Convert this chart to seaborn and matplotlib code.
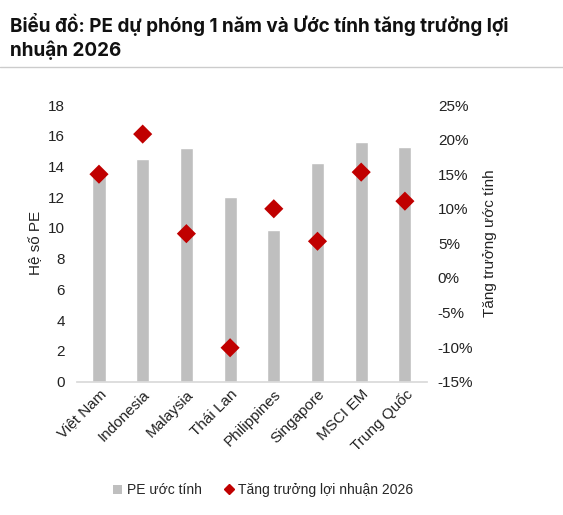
import matplotlib
matplotlib.use('Agg')
import matplotlib.pyplot as plt
import matplotlib.ticker as mticker
from matplotlib.lines import Line2D
from matplotlib.patches import Patch
import pandas as pd
import seaborn as sns

markets = ['Việt Nam', 'Indonesia', 'Malaysia', 'Thái Lan', 'Philippines',
           'Singapore', 'MSCI EM', 'Trung Quốc']
pe_values = [13.7, 14.5, 15.2, 12.0, 9.9, 14.2, 15.6, 15.3]
growth_pct = [15.0, 20.8, 6.4, -10.1, 10.0, 5.3, 15.3, 11.1]

df = pd.DataFrame({'market': markets, 'pe': pe_values, 'growth': growth_pct})

sns.set_theme(style='white')
plt.rcParams['font.family'] = ['Liberation Sans', 'DejaVu Sans']

fig = plt.figure(figsize=(5.63, 5.15), dpi=100)
ax = fig.add_axes([0.137, 0.259, 0.621, 0.537])

sns.barplot(data=df, x='market', y='pe', color='#bfbfbf', width=0.3,
            saturation=1, ax=ax)
ax.set_ylim(0, 18)
ax.set_yticks(range(0, 19, 2))
ax.set_xlim(-0.5, len(markets) - 0.5)
ax.set_xlabel('')
ax.set_ylabel('Hệ số PE', fontsize=11, color='#222222', labelpad=3)
ax.tick_params(axis='y', labelsize=11, colors='#222222', length=0, pad=9)
ax.tick_params(axis='x', labelsize=11, colors='#222222', length=0, pad=4)
for lbl in ax.get_xticklabels():
    lbl.set_rotation(45)
    lbl.set_ha('right')
    lbl.set_rotation_mode('anchor')
for side in ['top', 'right', 'left']:
    ax.spines[side].set_visible(False)
ax.spines['bottom'].set_color('#d9d9d9')

ax2 = ax.twinx()
sns.scatterplot(data=df, x='market', y='growth', marker='D', s=95,
                color='#c00000', edgecolor='none', ax=ax2, zorder=3)
ax2.set_ylim(-15, 25)
ax2.set_yticks(range(-15, 26, 5))
ax2.yaxis.set_major_formatter(mticker.FuncFormatter(lambda v, p: f'{v:.0f}%'))
ax2.set_ylabel('Tăng trưởng ước tính', fontsize=11, color='#222222', labelpad=7)
ax2.tick_params(axis='y', labelsize=11, colors='#222222', length=0, pad=8)
for side in ['top', 'right', 'left', 'bottom']:
    ax2.spines[side].set_visible(False)
ax2.set_xlim(-0.5, len(markets) - 0.5)

fig.text(0.018, 0.975, 'Biểu đồ: PE dự phóng 1 năm và Ước tính tăng trưởng lợi\nnhuận 2026',
         fontsize=13.6, fontweight='bold', family=['Inter', 'DejaVu Sans'],
         va='top', ha='left', linespacing=1.3, color='#111111')
fig.add_artist(Line2D([0, 1], [0.87, 0.87], color='#cccccc', lw=1))

handles = [Patch(facecolor='#bfbfbf', edgecolor='none', label='PE ước tính'),
           Line2D([], [], marker='D', color='#c00000', linestyle='none',
                  markersize=5, label='Tăng trưởng lợi nhuận 2026')]
fig.legend(handles=handles, loc='center', bbox_to_anchor=(0.468, 0.048), ncol=2,
           frameon=False, fontsize=10, handlelength=0.6, handletextpad=0.4,
           columnspacing=1.6)

fig.savefig('out.png', dpi=100, facecolor='white')
